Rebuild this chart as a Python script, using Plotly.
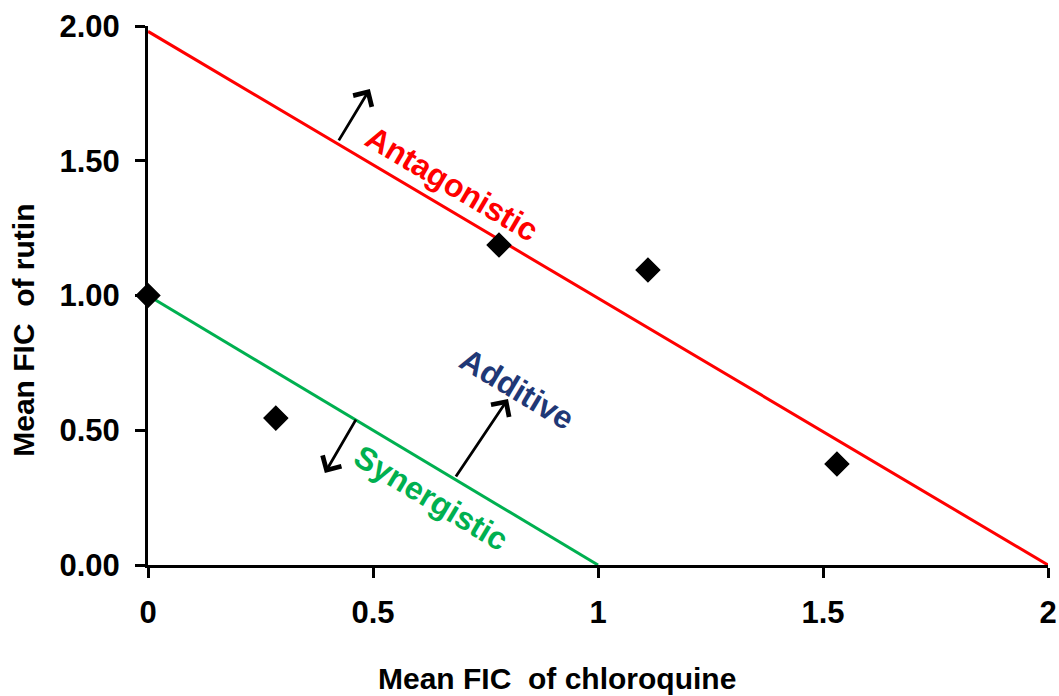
import plotly.graph_objects as go

# Data
fic_chloroquine = [0.0, 0.284, 0.78, 1.111, 1.531]
fic_rutin = [1.0, 0.545, 1.187, 1.095, 0.375]

antagonistic_x = [0.0, 2.0]
antagonistic_y = [1.98, 0.0]
synergistic_x = [0.0, 1.0]
synergistic_y = [1.0, 0.0]

x_tickvals = [0, 0.5, 1, 1.5, 2]
x_ticktext = ["0", "0.5", "1", "1.5", "2"]
y_tickvals = [0, 0.5, 1.0, 1.5, 2.0]
y_ticktext = ["0.00", "0.50", "1.00", "1.50", "2.00"]

FONT = "Liberation Sans, Arial, sans-serif"
RED = "#FF0000"
GREEN = "#00B050"
NAVY = "#1F3876"

fig = go.Figure()
fig.add_trace(go.Scatter(x=antagonistic_x, y=antagonistic_y, mode="lines",
                         line=dict(color=RED, width=3), showlegend=False,
                         hoverinfo="skip"))
fig.add_trace(go.Scatter(x=synergistic_x, y=synergistic_y, mode="lines",
                         line=dict(color=GREEN, width=3), showlegend=False,
                         hoverinfo="skip"))
fig.add_trace(go.Scatter(x=fic_chloroquine, y=fic_rutin, mode="markers",
                         marker=dict(symbol="diamond", size=18, color="black",
                                     line=dict(color="black", width=1.5)),
                         cliponaxis=False, showlegend=False))

# arrows (head at x,y ; tail at ax,ay), data coordinates
arrows = [
    (0.493, 1.766, 0.422, 1.570),
    (0.393, 0.341, 0.464, 0.545),
    (0.800, 0.616, 0.682, 0.323),
]
for hx, hy, tx, ty in arrows:
    fig.add_annotation(x=hx, y=hy, ax=tx, ay=ty, xref="x", yref="y",
                       axref="x", ayref="y", text="", showarrow=True,
                       arrowhead=4, arrowsize=1.5, arrowwidth=2.8,
                       arrowcolor="black")

labels = [
    ("Antagonistic", 0.676, 1.414, RED, 30.6),
    ("Synergistic", 0.629, 0.249, GREEN, 31.0),
    ("Additive", 0.820, 0.653, NAVY, 31.0),
]
for txt, lx, ly, col, ang in labels:
    fig.add_annotation(x=lx, y=ly, xref="x", yref="y", text=txt,
                       showarrow=False, textangle=ang,
                       font=dict(family=FONT, size=32, color=col, weight="bold"),
                       xanchor="center", yanchor="middle")

# axis titles
fig.add_annotation(x=0.454, y=-0.211, xref="paper", yref="paper",
                   text="Mean FIC  of chloroquine", showarrow=False,
                   font=dict(family=FONT, size=30, color="black", weight="bold"),
                   xanchor="center", yanchor="middle")
fig.add_annotation(x=-0.138, y=0.436, xref="paper", yref="paper",
                   text="Mean FIC  of rutin", showarrow=False, textangle=-90,
                   font=dict(family=FONT, size=30, color="black", weight="bold"),
                   xanchor="center", yanchor="middle")

axis_common = dict(showgrid=False, zeroline=False, showline=True,
                   linecolor="black", linewidth=3, ticks="outside",
                   ticklen=10, tickwidth=3, tickcolor="black",
                   tickfont=dict(family=FONT, size=31, color="black",
                                 weight="bold"))

fig.update_xaxes(range=[0, 2], tickvals=x_tickvals, ticktext=x_ticktext,
                 ticklabelstandoff=8, **axis_common)
fig.update_yaxes(range=[0, 2], tickvals=y_tickvals, ticktext=y_ticktext,
                 ticklabelstandoff=9, **axis_common)

fig.update_layout(width=1059, height=696,
                  margin=dict(l=148, r=11, t=26, b=131, autoexpand=False),
                  plot_bgcolor="white", paper_bgcolor="white",
                  showlegend=False)

# remove the default page margin so the figure fills the window exactly
fig.write_html("out.html",
               config={"displayModeBar": False},
               post_script="document.body.style.margin='0';"
                           "document.body.style.overflow='hidden';")
